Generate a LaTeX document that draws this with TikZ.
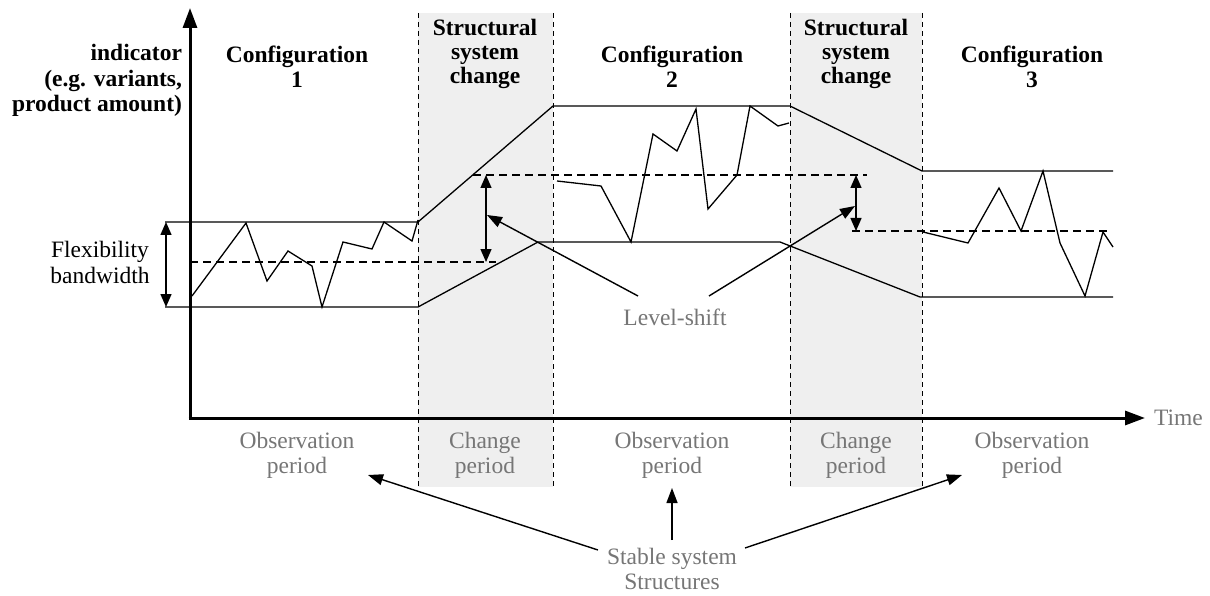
\documentclass[tikz,border=0pt]{standalone}
\usepackage{fontspec}
\setmainfont{Liberation Serif}
\usetikzlibrary{arrows.meta}
\definecolor{bandgray}{RGB}{239,239,239}
\definecolor{txtgray}{RGB}{118,118,118}
\begin{document}
\begin{tikzpicture}[x=1pt,y=-1pt,
  every node/.style={inner sep=0pt,outer sep=0pt,font=\fontsize{23.5}{25}\selectfont},
  band/.style={fill=bandgray,draw=none},
  vdash/.style={line width=1pt,dash pattern=on 5pt off 4pt},
  hdash/.style={line width=1.2pt,dash pattern=on 8pt off 5pt},
  thinline/.style={line width=1.3pt,line join=miter},
  axisline/.style={line width=3pt,-{Triangle[length=20pt,width=14pt]}},
  dblarrow/.style={line width=1.4pt,{Triangle[length=13pt,width=11pt]}-{Triangle[length=13pt,width=11pt]}},
  ptrarrow/.style={line width=1.4pt,-{Triangle[length=15pt,width=11pt]}},
  title/.style={font=\fontsize{23.5}{24}\selectfont\bfseries,align=center,anchor=base},
  graylabel/.style={text=txtgray,align=center,anchor=base}
]
\useasboundingbox (0,0) rectangle (1210,596);
% change bands
\fill[band] (418,13) rectangle (553,487);
\fill[band] (790,13) rectangle (922,487);
\foreach \xx in {418,553,790,922} \draw[vdash] (\xx,13) -- (\xx,487);
% envelope lines
\draw[thinline] (165,222) -- (418,222) -- (553,106) -- (790,106) -- (922,171) -- (1113,171);
\draw[thinline] (165,307) -- (418,307) -- (538,242) -- (780,242) -- (920,297) -- (1113,297);
% mean levels
\draw[hdash] (190,262) -- (496,262);
\draw[hdash] (473,175) -- (867,175);
\draw[hdash] (852,231) -- (1110,231);
% indicator curves
\draw[thinline] (192,296) -- (246,223) -- (267,281) -- (288,251) -- (312,266) -- (322,307) -- (343,242) -- (372,249) -- (384,222) -- (412,241) -- (418,220);
\draw[thinline] (557,181) -- (601,186) -- (631,242) -- (653,134) -- (677,151) -- (696,109) -- (708,209) -- (737,175) -- (750,106) -- (778,126) -- (789,123);
\draw[thinline] (923,232) -- (968,243) -- (999,188) -- (1021,231) -- (1043,171) -- (1060,243) -- (1085,296) -- (1103,232) -- (1113,247);
% axes
\coordinate (origin) at (190,418);
\coordinate (ytip) at (190,8);
\coordinate (xtip) at (1145,418);
\draw[axisline] (190,419.5) -- (ytip);
\draw[axisline] (188.5,418) -- (xtip);
\node[graylabel,anchor=base west] (time) at (1154,425) {Time};
% bandwidth arrows
\coordinate (bwtop) at (166,222);
\coordinate (bwbot) at (166,307);
\draw[dblarrow] (bwtop) -- (bwbot);
\node[align=center,anchor=base] (flex) at (100,283) {Flexibility\\bandwidth};
\coordinate (ls1top) at (486,175);
\coordinate (ls1bot) at (486,262);
\draw[dblarrow] (ls1top) -- (ls1bot);
\coordinate (ls2top) at (856,175);
\coordinate (ls2bot) at (856,231);
\draw[dblarrow] (ls2top) -- (ls2bot);
% level-shift label
\node[graylabel] (lshift) at (675,325) {Level-shift};
\coordinate (lsA) at (638,296);
\coordinate (lsB) at (709,296);
\coordinate (lsAt) at (487,215);
\coordinate (lsBt) at (855,206);
\draw[ptrarrow] (lsA) -- (lsAt);
\draw[ptrarrow] (lsB) -- (lsBt);
% titles
\node[title,font=\fontsize{23.5}{25.5}\selectfont\bfseries,align=right,anchor=base east] (ind) at (182,112) {indicator\\(e.g. variants,\\product amount)};
\node[title,font=\fontsize{23.5}{25}\selectfont\bfseries] (c1) at (297,88) {Configuration\\1};
\node[title] (s1) at (485,84) {Structural\\system\\change};
\node[title,font=\fontsize{23.5}{25}\selectfont\bfseries] (c2) at (672,88) {Configuration\\2};
\node[title] (s2) at (856,84) {Structural\\system\\change};
\node[title,font=\fontsize{23.5}{25}\selectfont\bfseries] (c3) at (1032,88) {Configuration\\3};
% period labels
\node[graylabel] (o1) at (297,473) {Observation\\period};
\node[graylabel] (p1) at (485,473) {Change\\period};
\node[graylabel] (o2) at (672,473) {Observation\\period};
\node[graylabel] (p2) at (856,473) {Change\\period};
\node[graylabel] (o3) at (1032,473) {Observation\\period};
\node[graylabel] (stable) at (672,589) {Stable system\\Structures};
\coordinate (stA) at (598,550);
\coordinate (stB) at (672,540);
\coordinate (stC) at (745,548);
\draw[ptrarrow] (stA) -- (368,475);
\draw[ptrarrow] (stB) -- (672,488);
\draw[ptrarrow] (stC) -- (962,475);
\end{tikzpicture}
\end{document}
